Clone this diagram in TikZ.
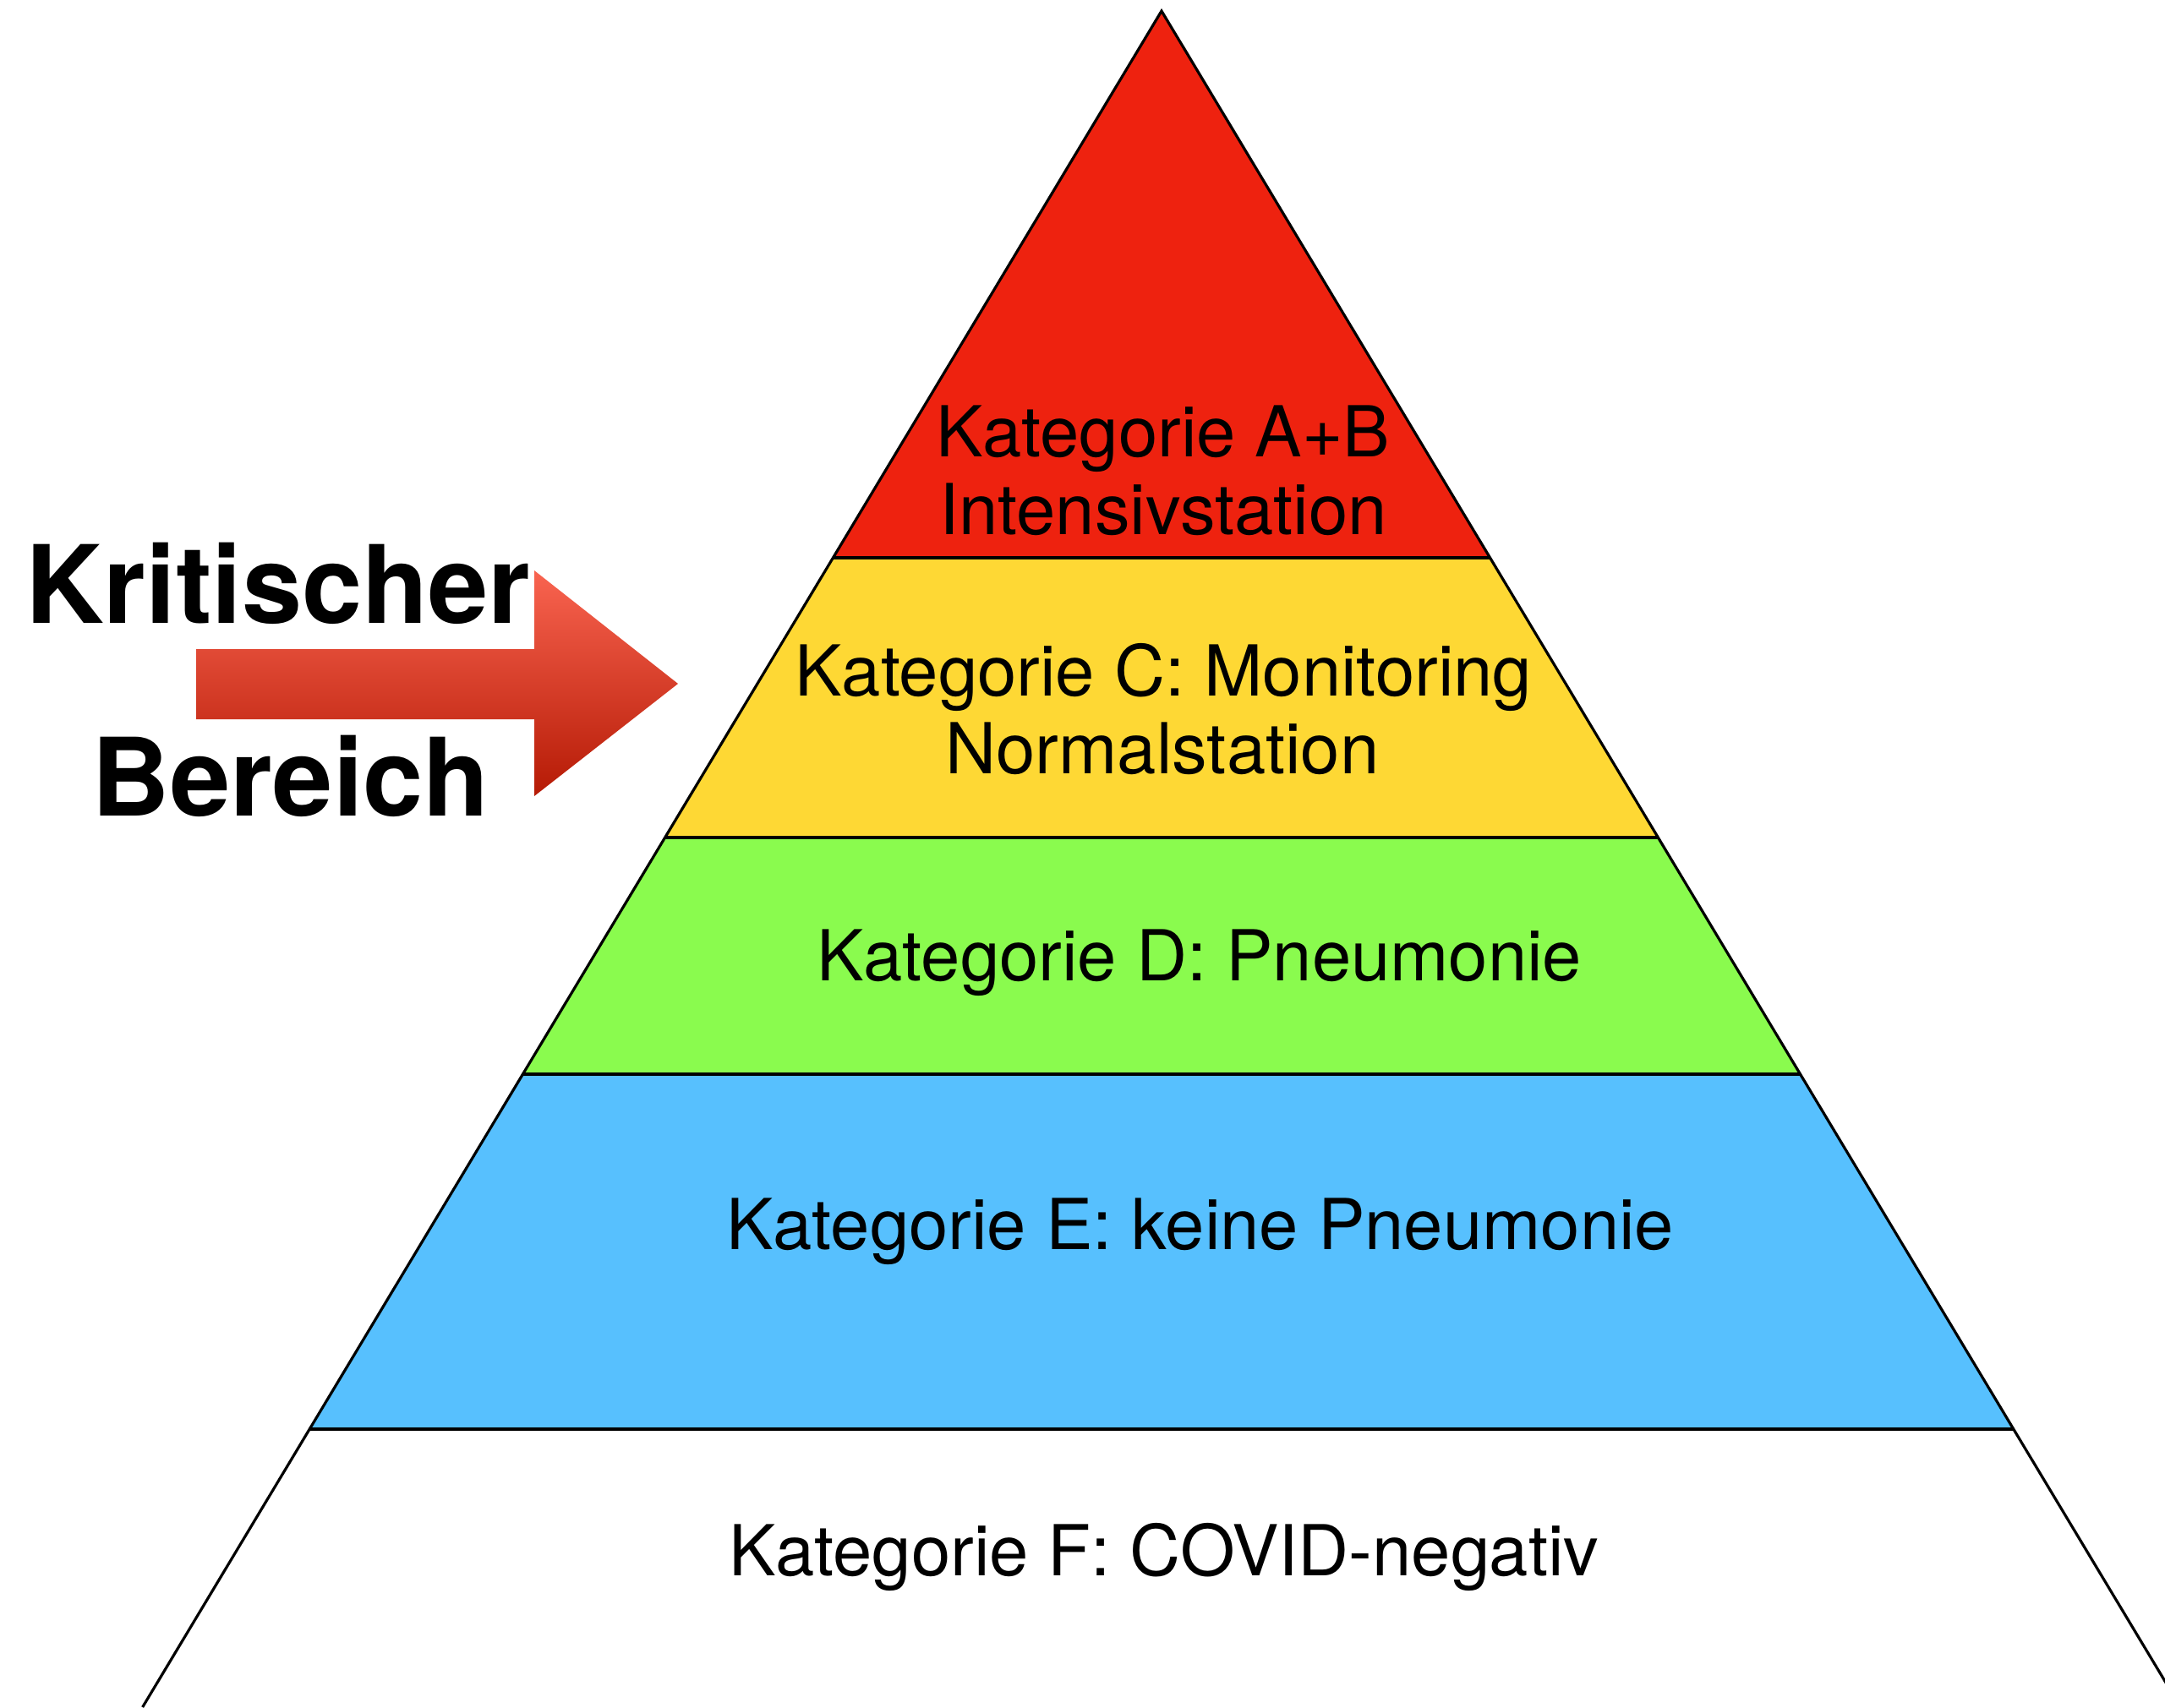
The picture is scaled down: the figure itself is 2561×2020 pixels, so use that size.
\documentclass[tikz,border=0pt]{standalone}
\usepackage{fontspec}
\setmainfont{TeX Gyre Heros}
\definecolor{bandred}{HTML}{EE220F}
\definecolor{bandyellow}{HTML}{FED834}
\definecolor{bandgreen}{HTML}{8AFB4E}
\definecolor{bandblue}{HTML}{57C0FE}
\definecolor{arrowtop}{HTML}{F96450}
\definecolor{arrowbottom}{HTML}{B51A05}
\tikzset{
  lbl/.style={inner sep=0pt, anchor=base, font=\fontsize{41.6}{46}\selectfont},
  biglbl/.style={inner sep=0pt, anchor=base, font=\fontsize{64}{70}\selectfont\bfseries},
  outline/.style={line width=1.6pt, black, line join=miter},
}
\begin{document}
\begin{tikzpicture}[x=0.5pt,y=-0.5pt]
\useasboundingbox (0,0) rectangle (2561,2020);
\clip (0,0) rectangle (2561,2020);
\fill[white] (0,0) rectangle (2561,2020);
% corner coordinates of the pyramid
\coordinate (apex) at (1374,13);
\coordinate (l1) at (985.4,660);  \coordinate (r1) at (1762.6,660);
\coordinate (l2) at (786.6,991);  \coordinate (r2) at (1961.4,991);
\coordinate (l3) at (618.4,1271); \coordinate (r3) at (2129.6,1271);
\coordinate (l4) at (366.2,1691); \coordinate (r4) at (2381.8,1691);
\coordinate (l5) at (168.6,2020); \coordinate (r5) at (2579.4,2020);
% bands
\fill[bandred] (apex) -- (r1) -- (l1) -- cycle;
\fill[bandyellow] (l1) -- (r1) -- (r2) -- (l2) -- cycle;
\fill[bandgreen] (l2) -- (r2) -- (r3) -- (l3) -- cycle;
\fill[bandblue] (l3) -- (r3) -- (r4) -- (l4) -- cycle;
% outline and dividers
\draw[outline] (l5) -- (apex) -- (r5);
\draw[outline] (l1) -- (r1);
\draw[outline] (l2) -- (r2);
\draw[outline] (l3) -- (r3);
\draw[outline] (l4) -- (r4);
% labels
\node[lbl] (ab1) at (1376,540) {Kategorie A+B};
\node[lbl] (ab2) at (1376,632) {Intensivstation};
\node[lbl] (c1) at (1376.5,823) {Kategorie C: Monitoring};
\node[lbl] (c2) at (1375,915) {Normalstation};
\node[lbl] (d) at (1419,1160) {Kategorie D: Pneumonie};
\node[lbl] (e) at (1420,1478) {Kategorie E: keine Pneumonie};
\node[lbl] (f) at (1377,1864) {Kategorie F: COVID-negativ};
% critical area arrow
\shade[top color=arrowtop, bottom color=arrowbottom]
  (232,768) -- (632,768) -- (632,675) -- (802,809) -- (632,942) -- (632,851) -- (232,851) -- cycle;
\node[biglbl] (krit) at (329,737) {Kritischer};
\node[biglbl] (ber) at (344,965) {Bereich};
\end{tikzpicture}
\end{document}
